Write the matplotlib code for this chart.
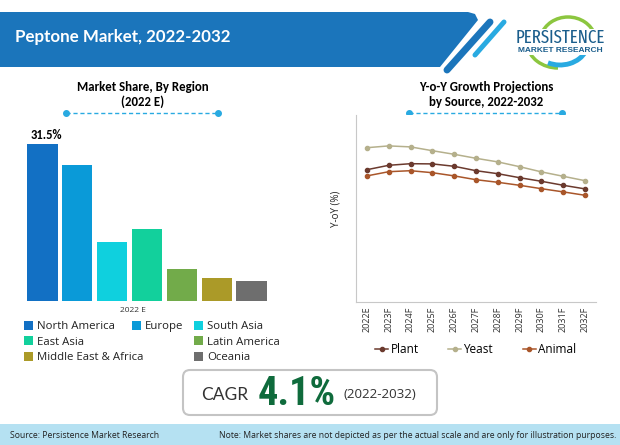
import matplotlib
matplotlib.use("Agg")
import matplotlib.pyplot as plt
from matplotlib.patches import Polygon, FancyBboxPatch, Rectangle, Arc

BODY = ["Open Sans", "DejaVu Sans"]
BOLD = ["Carlito", "Noto Sans", "DejaVu Sans"]
NARROW = ["Roboto Condensed", "Liberation Sans", "DejaVu Sans"]
LOGO = ["Fira Sans Extra Condensed", "Roboto Condensed", "Liberation Sans", "DejaVu Sans"]
plt.rcParams["font.family"] = BODY

# Bar chart data
regions = ["North America", "Europe", "South Asia", "East Asia",
	"Latin America", "Middle East & Africa", "Oceania"]
shares = [31.5, 27.3, 11.8, 14.4, 6.5, 4.7, 4.1]
region_colors = ["#1270c4", "#0a9ad8", "#0fd0de", "#12d09c", "#72ab4a", "#ab9a28", "#6e6e6e"]

# Line chart data
years = ["2022E", "2023F", "2024F", "2025F", "2026F", "2027F", "2028F",
	"2029F", "2030F", "2031F", "2032F"]
plant = [6.63, 6.85, 6.93, 6.92, 6.80, 6.58, 6.43, 6.23, 6.05, 5.85, 5.67]
yeast = [7.73, 7.82, 7.77, 7.58, 7.40, 7.20, 7.02, 6.78, 6.52, 6.30, 6.08]
animal = [6.32, 6.53, 6.58, 6.48, 6.32, 6.13, 6.00, 5.85, 5.68, 5.52, 5.35]

W, H = 620, 445
fig = plt.figure(figsize=(6.2, 4.45), dpi=100)

def axes_px(x0, y0, x1, y1):
	# Axes from pixel box, y measured from the top
	return fig.add_axes([x0 / W, 1 - y1 / H, (x1 - x0) / W, (y1 - y0) / H])

# Page decoration layer
bg = fig.add_axes([0, 0, 1, 1])
bg.set_xlim(0, W)
bg.set_ylim(H, 0)
bg.axis("off")

# Header band
bg.add_patch(Polygon([(0, 12), (468, 12), (475, 14), (478, 20), (440, 67), (0, 67)],
	closed=True, fc="#1b75bb", ec="none"))
bg.plot([490, 447], [22, 70], color="#1b75bb", lw=5, solid_capstyle="round")
bg.plot([504, 475], [22, 55], color="#29aae1", lw=3.6, solid_capstyle="round")
bg.text(15, 37, "Peptone Market, 2022-2032", color="white", fontsize=12.2,
	fontweight="bold", va="center", ha="left", family=["Lato", "DejaVu Sans"])

# Logo, y runs downward here so small angles sit on the lower half
bg.add_patch(Arc((568, 42), 56, 50, theta1=195, theta2=345, color="#8cc63f", lw=2.5))
bg.add_patch(Arc((558, 42), 62, 52, theta1=90, theta2=175, color="#8cc63f", lw=2.5))
bg.add_patch(Arc((560, 42), 56, 46, theta1=20, theta2=120, color="#29aae1", lw=3.5))
bg.add_patch(Rectangle((514, 29), 104, 26, fc="white", ec="none", zorder=2))
bg.text(560, 38, "PERSISTENCE", color="#1b5e8c", fontsize=13.2, ha="center", va="center",
	family=LOGO, zorder=3)
bg.text(560, 51, "MARKET RESEARCH", color="#1b5e8c", fontsize=6, ha="center", va="center",
	fontweight="bold", family=["Liberation Sans", "DejaVu Sans"], zorder=3)

# Chart titles with dotted connector lines
title_font = dict(fontsize=9.3, fontweight="bold", ha="center", va="center", family=BOLD)
bg.text(143, 87, "Market Share, By Region", **title_font)
bg.text(143, 102, "(2022 E)", **title_font)
bg.text(486, 87, "Y-o-Y Growth Projections", **title_font)
bg.text(486, 102, "by Source, 2022-2032", **title_font)
for x0, x1 in [(66, 218), (409, 562)]:
	bg.plot([x0, x1], [112.5, 112.5], color="#29aae1", lw=1, ls=(0, (3, 2)))
	bg.plot([x0, x1], [112.5, 112.5], ls="none", marker="o", ms=4, color="#29aae1")

# Bar chart
ax1 = axes_px(22, 125, 272, 301)
ax1.bar(range(len(shares)), shares, width=0.875, color=region_colors)
ax1.set_xlim(-0.582, 6.58)
ax1.set_ylim(0, 31.5 * 176 / 157)
ax1.axis("off")
ax1.annotate("31.5%", (0, shares[0]), xytext=(3, 2), textcoords="offset points",
	fontsize=9, fontweight="bold", ha="center", va="bottom", family=BOLD)
bg.text(133, 311, "2022 E", fontsize=6, ha="center", va="center", color="#333333")

# Bar legend placed by hand like the original
legend_pos = [(24, 325), (131.7, 325), (194, 325), (24, 340.7), (194, 340.7), (24, 356), (194, 356)]
for (lx, ly), name, col in zip(legend_pos, regions, region_colors):
	bg.add_patch(Rectangle((lx, ly - 4.5), 9, 9, fc=col, ec="none"))
	bg.text(lx + 13, ly + 4, name, fontsize=8.2, va="baseline", ha="left", color="#222222")

# Line chart
ax2 = axes_px(356, 115, 596, 302.3)
x = list(range(len(years)))
ax2.plot(x, plant, color="#6b3a2e", lw=1.1, marker="o", ms=3, label="Plant")
ax2.plot(x, yeast, color="#b5b08c", lw=1.1, marker="o", ms=3, label="Yeast")
ax2.plot(x, animal, color="#a9562a", lw=1.1, marker="o", ms=3, label="Animal")
ax2.set_xlim(-0.5, 10.5)
ax2.set_ylim(0, 187.3 * 0.05)
ax2.set_yticks([])
ax2.set_xticks(x)
ax2.set_xticklabels(years, rotation=90, fontsize=6.5, color="#333333")
ax2.tick_params(axis="x", length=0, pad=3)
for s in ["top", "right"]:
	ax2.spines[s].set_visible(False)
for s in ["left", "bottom"]:
	ax2.spines[s].set_color("#c8c8c8")
ax2.set_ylabel("Y-oY (%)", fontsize=7, color="#222222")
ax2.yaxis.set_label_coords(-0.06, 0.5)
handles, labels = ax2.get_legend_handles_labels()
ax2.legend(handles, labels, ncol=3, frameon=False, fontsize=8.5, loc="upper left",
	bbox_to_anchor=(0.08, -0.217), borderpad=0, borderaxespad=0,
	handlelength=1.1, handletextpad=0.2, columnspacing=2.5)

# CAGR box
bg.add_patch(FancyBboxPatch((183, 370), 254, 45, boxstyle="round,pad=0,rounding_size=7",
	fc="white", ec="#c4c4c4", lw=1.5))
bg.text(201, 395, "CAGR", fontsize=12.5, color="#333333", ha="left", va="center",
	family=["Lato", "DejaVu Sans"])
bg.text(258, 394, "4.1%", fontsize=29, color="#0f6b3c", fontweight="bold", ha="left", va="center",
	family=NARROW)
bg.text(343, 395, "(2022-2032)", fontsize=9.6, color="#333333", ha="left", va="center")

# Footer band
bg.add_patch(Rectangle((0, 424), W, 21, fc="#b5e1f2", ec="none"))
bg.text(10, 435, "Source: Persistence Market Research", fontsize=6.2, va="center", ha="left", color="#222222")
bg.text(616, 435, "Note: Market shares are not depicted as per the actual scale and are only for illustration purposes.",
	fontsize=6.2, va="center", ha="right", color="#222222")

fig.savefig("out.png", dpi=100)
